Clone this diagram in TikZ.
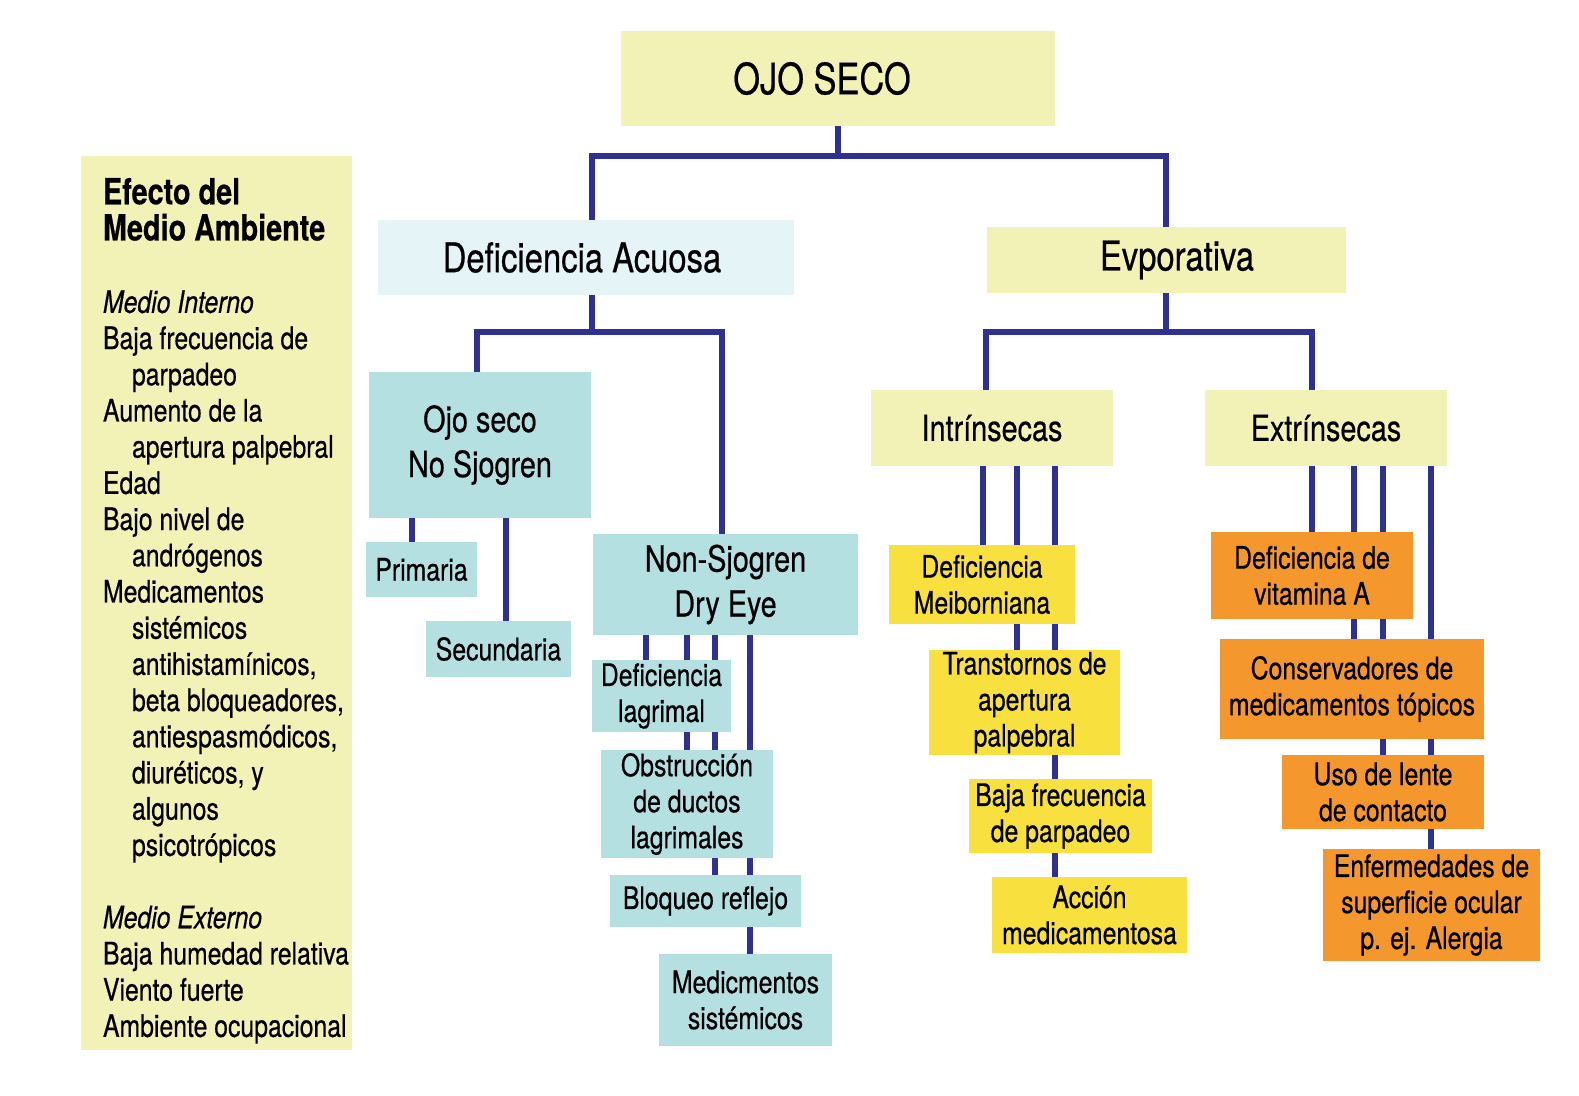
\documentclass[tikz,border=0pt]{standalone}
\usepackage{fontspec}
\setmainfont{TeX Gyre Heros}[FakeStretch=0.8,FakeBold=0.5]
\usetikzlibrary{backgrounds}
\definecolor{cPale}{RGB}{243,242,182}
\definecolor{cIce}{RGB}{228,244,247}
\definecolor{cTeal}{RGB}{180,224,226}
\definecolor{cYel}{RGB}{248,224,62}
\definecolor{cOrg}{RGB}{244,152,46}
\definecolor{cNavy}{RGB}{46,49,146}

\begin{document}
\begin{tikzpicture}[x=1pt,y=-1pt,
  box/.style={inner sep=0pt,align=center,font=\fontsize{31}{36}\selectfont},
  big/.style={inner sep=0pt,align=center,font=\fontsize{36}{45}\selectfont},
  huge/.style={inner sep=0pt,align=center,font=\fontsize{41}{48}\selectfont},
  paleb/.style={fill=cPale},
  tealb/.style={fill=cTeal},
  yelb/.style={box,fill=cYel},
  orgb/.style={box,fill=cOrg},
  link/.style={draw=cNavy,line width=6.5pt}]
  \useasboundingbox (0,0) rectangle (1579,1095);
  % top of the tree
  \node[huge,paleb,font=\fontsize{43}{50}\selectfont,minimum width=434pt,minimum height=95pt] (root) at (838,78.5) {OJO SECO\hspace*{32pt}};
  \node[huge,fill=cIce,minimum width=416pt,minimum height=75pt] (acu) at (586,257.5) {Deficiencia Acuosa\hspace*{8pt}};
  \node[huge,paleb,minimum width=359pt,minimum height=66pt] (evp) at (1166,260) {\hspace*{22pt}Evporativa};
  % second row
  \node[big,tealb,minimum width=222pt,minimum height=146pt] (nsj) at (480,445) {Ojo seco\\No Sjogren};
  \node[big,tealb,minimum width=265pt,minimum height=101pt] (nsd) at (725.5,584.5) {Non-Sjogren\\Dry Eye};
  \node[big,paleb,minimum width=242pt,minimum height=76pt] (intr) at (992,428) {Intrínsecas};
  \node[big,paleb,minimum width=242pt,minimum height=76pt] (extr) at (1326,428) {Extrínsecas};
  % aqueous leaves
  \node[box,tealb,minimum width=111pt,minimum height=55pt] (prim) at (421.5,569.5) {Primaria};
  \node[box,tealb,minimum width=145pt,minimum height=56pt] (secu) at (498.5,649) {Secundaria};
  \node[box,tealb,minimum width=139pt,minimum height=72pt] (dlag) at (661.5,696) {Deficiencia\\lagrimal};
  \node[box,tealb,minimum width=172pt,minimum height=108pt] (obst) at (687,804) {Obstrucción\\de ductos\\lagrimales};
  \node[box,tealb,minimum width=191pt,minimum height=52pt] (bloq) at (705.5,901) {Bloqueo reflejo};
  \node[box,tealb,minimum width=173pt,minimum height=92pt] (medi) at (745.5,1000) {Medicmentos\\sistémicos};
  % intrinsic leaves
  \node[yelb,minimum width=186pt,minimum height=79pt] (meib) at (982,584.5) {Deficiencia\\Meiborniana};
  \node[yelb,minimum width=191pt,minimum height=105pt] (tran) at (1024.5,702.5) {Transtornos de\\apertura\\palpebral};
  \node[yelb,minimum width=183pt,minimum height=74pt] (bfre) at (1060.5,816) {Baja frecuencia\\de parpadeo};
  \node[yelb,minimum width=195pt,minimum height=76pt] (acci) at (1089.5,915) {Acción\\medicamentosa};
  % extrinsic leaves
  \node[orgb,minimum width=202pt,minimum height=87pt] (vita) at (1312,575.5) {Deficiencia de\\vitamina A};
  \node[orgb,minimum width=264pt,minimum height=100pt] (cons) at (1352,689) {Conservadores de\\medicamentos tópicos};
  \node[orgb,minimum width=202pt,minimum height=74pt] (lent) at (1383,792) {Uso de lente\\de contacto};
  \node[orgb,minimum width=217pt,minimum height=112pt] (enfe) at (1431.5,905) {Enfermedades de\\superficie ocular\\p. ej. Alergia};
  % side panel
  \node[paleb,inner sep=0pt,minimum width=271pt,minimum height=894pt] (env) at (216.5,603) {};
  \node[anchor=north west,align=left,inner sep=0pt,font=\fontsize{31}{36.2}\selectfont] (envtxt)
    at ([xshift=22pt,yshift=-22pt]env.north west)
    {\textbf{\fontsize{36}{36.2}\selectfont Efecto del}\\
     \textbf{\fontsize{36}{36.2}\selectfont Medio Ambiente}\\[36.2pt]
     \textit{Medio Interno}\\
     Baja frecuencia de\\
     \hspace*{29pt}parpadeo\\
     Aumento de la\\
     \hspace*{29pt}apertura palpebral\\
     Edad\\
     Bajo nivel de\\
     \hspace*{29pt}andrógenos\\
     Medicamentos\\
     \hspace*{29pt}sistémicos\\
     \hspace*{29pt}antihistamínicos,\\
     \hspace*{29pt}beta bloqueadores,\\
     \hspace*{29pt}antiespasmódicos,\\
     \hspace*{29pt}diuréticos, y\\
     \hspace*{29pt}algunos\\
     \hspace*{29pt}psicotrópicos\\[36.2pt]
     \textit{Medio Externo}\\
     Baja humedad relativa\\
     Viento fuerte\\
     Ambiente ocupacional};
  % branch points and drop lines
  \coordinate (bA) at (592,156);  \coordinate (bE) at (1166,156);
  \coordinate (bN) at (477,332);  \coordinate (bD) at (722,332);
  \coordinate (bI) at (986,332);  \coordinate (bX) at (1312,332);
  \coordinate (kP) at (412,0);    \coordinate (kS) at (506,0);
  \coordinate (kDL) at (646,0);   \coordinate (kOB) at (687,0);
  \coordinate (kBR) at (715,0);   \coordinate (kME) at (750,0);
  \coordinate (kMB) at (983,0);   \coordinate (kTR) at (1017,0);
  \coordinate (kAC) at (1055,0);
  \coordinate (kVA) at (1312,0);  \coordinate (kCO) at (1354,0);
  \coordinate (kUL) at (1383,0);  \coordinate (kEN) at (1431,0);
  \begin{scope}[on background layer]
    \fill[white] (0,0) rectangle (1579,1095);
    \draw[link] (root.south) -- (root.south |- bA);
    \draw[link] (acu.north -| bA) |- (bE) -- (evp.north);
    \draw[link] (acu.south -| bA) -- (bA |- bN);
    \draw[link] (nsj.north -| bN) |- (bD) -- (nsd.north -| bD);
    \draw[link] (evp.south) -- (evp.south |- bI);
    \draw[link] (intr.north -| bI) |- (bX) -- (extr.north -| bX);
    \foreach \up/\kid/\k in {nsj/prim/kP,nsj/secu/kS,
        nsd/dlag/kDL,nsd/obst/kOB,nsd/bloq/kBR,nsd/medi/kME,
        intr/meib/kMB,intr/tran/kTR,intr/acci/kAC,
        extr/vita/kVA,extr/cons/kCO,extr/lent/kUL,extr/enfe/kEN}
      \draw[link] (\up.south -| \k) -- (\kid.north -| \k);
  \end{scope}
\end{tikzpicture}
\end{document}
